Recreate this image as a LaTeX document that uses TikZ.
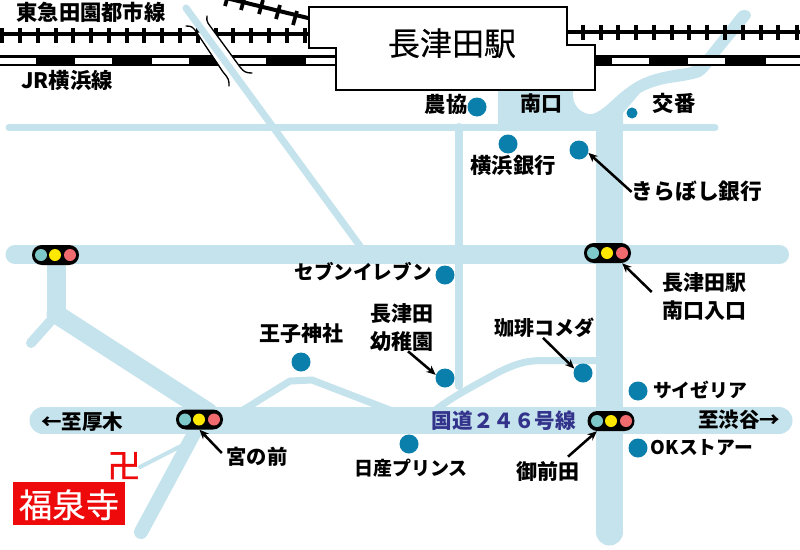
\documentclass[tikz,border=0pt]{standalone}
\usepackage{fontspec}
\setmainfont{Noto Sans CJK JP}
\newfontfamily\medfont[FakeBold=0.4]{Noto Sans CJK JP}
\newfontfamily\heavyfont[FakeBold=1.1]{Noto Sans CJK JP}
\usetikzlibrary{arrows.meta}
\definecolor{roadc}{HTML}{C5E3EC}
\definecolor{dotc}{HTML}{0A7FAB}
\definecolor{lampg}{HTML}{7FC8CA}
\definecolor{lampy}{HTML}{FFE800}
\definecolor{lampr}{HTML}{F16A6E}
\definecolor{navy}{HTML}{33338C}
\definecolor{redc}{HTML}{EE0A0A}
\newcommand\pxfont[2]{\pgfmathsetlengthmacro\myfs{#1*0.75pt}\fontsize{\myfs}{#2}\selectfont}
\tikzset{
  road/.style={line width=#1*0.75pt,draw=roadc,line cap=round,line join=round},
  dotm/.style={circle,fill=dotc,inner sep=0pt,minimum size=#1*1.5pt},
  lbl/.style={inner sep=0pt,text height=#1*0.63pt,text depth=#1*0.09pt,font=\bfseries\pxfont{#1}{24pt}},
  lbltwo/.style={inner sep=0pt,align=center,font=\bfseries\pxfont{#1}{21pt}},
  arw/.style={line width=1.9pt,-{Stealth[length=7pt,width=6pt]}},
  bridge/.style={line width=1pt,draw=black,line cap=round},
  lampbody/.style={fill=black,rectangle,rounded corners=7.4pt,inner sep=0pt,minimum width=35.25pt,minimum height=15pt},
  lampc/.style={circle,fill=#1,inner sep=0pt,minimum size=9pt},
  tick/.style={line width=2.8pt,draw=black},
  railm/.style={line width=3pt,draw=black},
  stationb/.style={fill=white,draw=black,line width=1.4pt,line join=miter}
}
\begin{document}
\begin{tikzpicture}[x=0.75pt,y=-0.75pt]
\clip (0,0) rectangle (800,550);
\fill[white] (0,0) rectangle (800,550);

% roads
\draw[road=7] (9,127.5) -- (715,127.5);
\draw[road=8] (459,127) -- (459,386);
\draw[road=19] (15,254.5) -- (779.5,254.5);
\draw[road=27] (43,420.5) -- (779,420.5);
\draw[road=27] (609.5,127) -- (609.5,532);
\draw[road=19] (56,254) -- (56,314);
\draw[road=19] (56,314) -- (208,412);
\draw[road=10] (55,316) -- (31,343);
\draw[road=14] (197,428) -- (141,532);
\draw[road=4] (183,445) -- (140,467);
\draw[road=7] (240,412) -- (290,381) -- (312,380) -- (395,412);
\draw[road=7] (433,412) .. controls (450,398) and (470,388) .. (497,373) .. controls (515,364) and (525,361) .. (540,360.5) -- (600,360.5);
\fill[roadc] (498,85) -- (573,85) -- (573,97) .. controls (574,108) and (584,115) .. (592,114) .. controls (603,112) and (615,96) .. (627,88) .. controls (640,78) and (655,72) .. (687,68) .. controls (696,66) and (700,62) .. (704,56) -- (738,13) .. controls (743,7) and (754,11) .. (750,18) -- (717,58) .. controls (710,68) and (706,74) .. (700,77) .. controls (685,82) and (670,82) .. (660,85) .. controls (650,88) and (645,90) .. (640,93) -- (623,113) -- (623,130) -- (498,130) -- cycle;

% JR line
\fill[black] (0,55) rectangle (336,66);
\fill[black] (595,55) rectangle (800,66);
\foreach \a/\b in {0/35.7,75/112,152/189,228/266,306/336,612/649,688/725,766/800}
  \fill[white] (\a,57.5) rectangle (\b,64);

% Tokyu line
\draw[railm] (0,33.5) -- (310,33.5);
\draw[railm] (566,32) -- (800,32);
\foreach \x in {2,20,38,56,73,91,109,127,144,162,180,198,216,233,251,269,287,305}
  \draw[tick] (\x,28) -- (\x,43);
\foreach \x in {583,601,618,636,654,672,689,707,725,743,761,778,797}
  \draw[tick] (\x,24.5) -- (\x,40);
\draw[railm] (312,19) -- (222,-3);
\foreach \x/\y in {295/18,278/12,261/7,243/3,227/-1}
  \draw[tick] (\x+2,\y-7) -- (\x-2,\y+7);

% overpass
\fill[white] (197,33) -- (213,30) -- (242,69) -- (225,74) -- cycle;
\draw[road=7] (186,8) -- (360,246);
\draw[bridge] (186,26) .. controls (192,26) and (193,27) .. (197,33) -- (223,72) .. controls (229,79) and (229,80) .. (229,86);
\draw[bridge] (207,16) .. controls (206,22) and (208,23) .. (213,30) -- (240,67) .. controls (244,72) and (246,73) .. (252,73);

% station
\draw[stationb] (309,7) -- (567,7) -- (567,45) -- (595,45) -- (595,90) -- (336,90) -- (336,48) -- (309,48) -- cycle;
\node[inner sep=0pt,font=\medfont\fontsize{24}{24}\selectfont,text height=20pt,text depth=3pt] (stn) at (452,44) {長津田駅};

% signals
\node[lampbody] (lampUL) at (55.5,255) {};
\node[lampc=lampg] (lampULa) at (41,255) {};
\node[lampc=lampy] (lampULb) at (55,255) {};
\node[lampc=lampr] (lampULc) at (70,255) {};
\node[lampbody] (lampUR) at (607.5,253) {};
\node[lampc=lampg] (lampURa) at (593,253) {};
\node[lampc=lampy] (lampURb) at (607,253) {};
\node[lampc=lampr] (lampURc) at (622,253) {};
\node[lampbody] (lampLL) at (199.5,419.5) {};
\node[lampc=lampg] (lampLLa) at (185,419.5) {};
\node[lampc=lampy] (lampLLb) at (199,419.5) {};
\node[lampc=lampr] (lampLLc) at (214,419.5) {};
\node[lampbody] (lampLR) at (611,421) {};
\node[lampc=lampg] (lampLRa) at (597,421) {};
\node[lampc=lampy] (lampLRb) at (611,421) {};
\node[lampc=lampr] (lampLRc) at (626,421) {};

% spots
\node[dotm=9.5] (dNokyo) at (477,107) {};
\node[dotm=5.5] (dKoban) at (632,113) {};
\node[dotm=9.5] (dYoko) at (508,144) {};
\node[dotm=9.5] (dKira) at (579,150) {};
\node[dotm=9.5] (dSeven) at (445,275) {};
\node[dotm=9.5] (dKinder) at (445,378) {};
\node[dotm=9.5] (dKomeda) at (583,373) {};
\node[dotm=9.5] (dSaize) at (638,391) {};
\node[dotm=9.5] (dOK) at (638,448) {};
\node[dotm=9.5] (dNissan) at (409,444) {};
\node[dotm=9.5] (dOji) at (301,362) {};

% labels
\node[lbl=21.3] (lTokyu) at (91,13) {東急田園都市線};
\node[lbl=21.3] (lJR) at (67,81) {JR横浜線};
\node[lbl=21.3] (lNokyo) at (446,105) {農協};
\node[lbl=21] (lMinami) at (541,104) {南口};
\node[lbl=21.3] (lKoban) at (674,104) {交番};
\node[lbl=21.3] (lYoko) at (513,166) {横浜銀行};
\node[lbl=21.7] (lKira) at (697,192) {きらぼし銀行};
\node[lbl=19.6] (lSeven) at (363,272) {セブンイレブン};
\node[lbltwo=21] (lKinder) at (402,328) {長津田\\幼稚園};
\node[lbl=21] (lOji) at (301,334) {王子神社};
\node[lbl=20] (lKomeda) at (544,328) {珈琲コメダ};
\node[lbltwo=21] (lStn) at (704,296) {長津田駅\\南口入口};
\node[lbl=18.8] (lSaize) at (700,391) {サイゼリア};
\node[lbl=20.5] (lShibuya) at (739,420) {至渋谷→};
\node[lbl=18.8] (lOK) at (702,448) {OKストアー};
\node[lbl=20.6,text=navy] (lRoute) at (504,421) {国道２４６号線};
\node[lbl=21] (lGozen) at (548,472) {御前田};
\node[lbl=20.5] (lAtsugi) at (82,422) {←至厚木};
\node[lbl=20.3] (lMiya) at (257,457) {宮の前};
\node[lbl=19] (lNissan) at (411,469) {日産プリンス};

% temple
\node[inner sep=0pt,font=\heavyfont\fontsize{25}{25}\selectfont,text=redc,text height=21pt,text depth=3pt] (lManji) at (124,466) {卍};
\node[fill=redc,text=white,inner sep=0pt,minimum width=84pt,minimum height=32.25pt,font=\medfont\fontsize{25}{25}\selectfont,text height=21pt,text depth=0pt] (lTemple) at (69,503.5) {福泉寺};

% leaders
\draw[arw] (lKira.west) -- (dKira.-17);
\draw[arw] ([shift={(-10,-4)}]lStn.west) -- (lampUR.-35);
\draw[arw] ([shift={(-1,0)}]lKomeda.south) -- (dKomeda.153);
\draw[arw] ([shift={(6,-1)}]lKinder.south) -- (dKinder.161);
\draw[arw] ([shift={(20,-5)}]lGozen.north) -- (lampLR.-144);
\draw[arw] ([shift={(-4.5,-4)}]lMiya.west) -- (lampLL.-90);
\end{tikzpicture}
\end{document}
